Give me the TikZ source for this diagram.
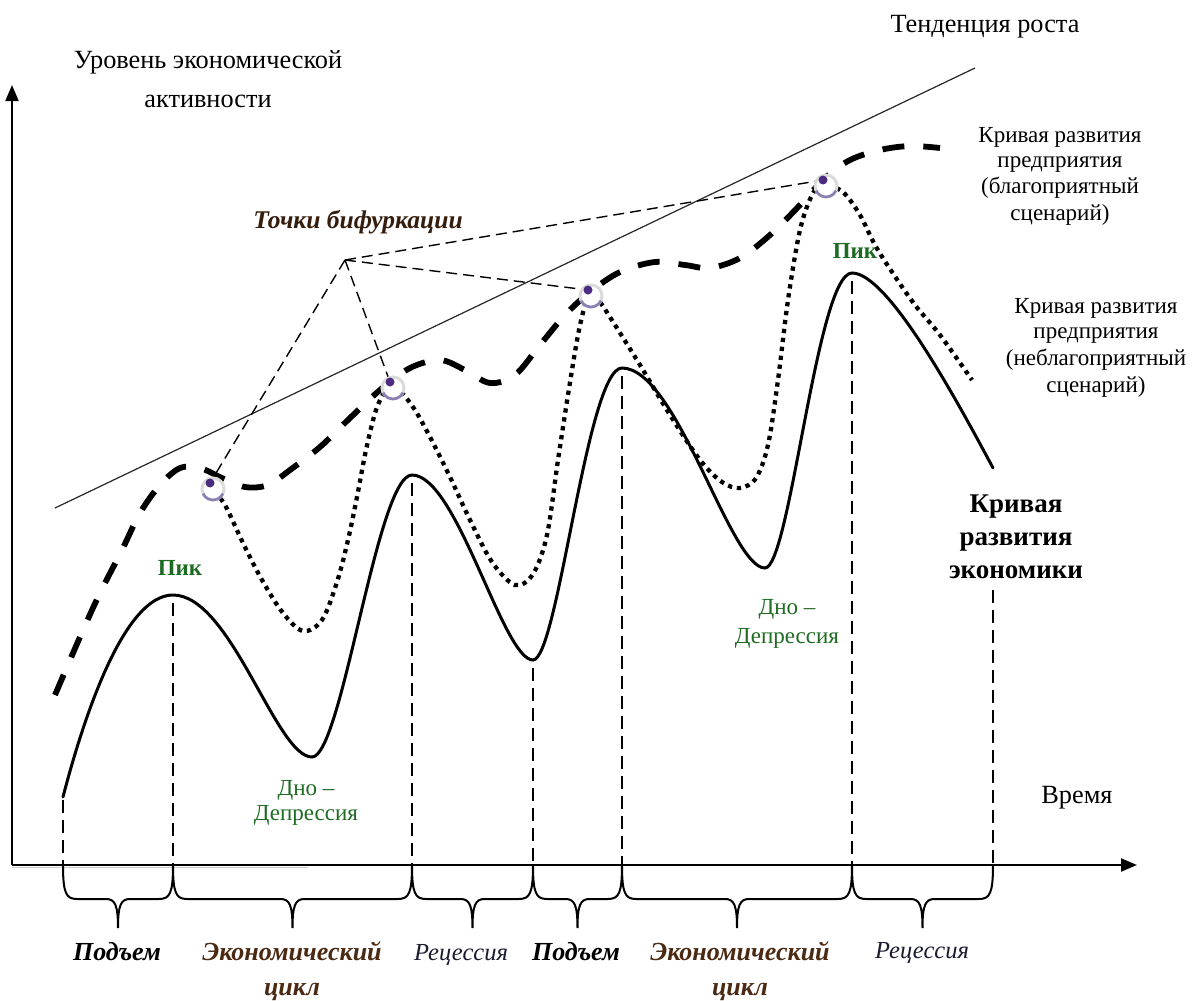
\documentclass[tikz,border=0pt]{standalone}
\usepackage{fontspec}
\setmainfont{Liberation Serif}
\usetikzlibrary{arrows.meta}
\definecolor{dgreen}{HTML}{1E6B22}
\definecolor{dbrown}{HTML}{4A2A12}
\definecolor{bifpurple}{HTML}{4B2C80}
\definecolor{ringlav}{HTML}{8C7FB5}
\definecolor{darkink}{HTML}{1A1A30}
\newcommand{\ecobrace}[2]{%
  \pgfmathsetmacro\bm{(#1+#2)/2}%
  \draw[bracestyle] (#1,865) .. controls (#1,893) and (#1+3,899) .. (#1+14,899)
    -- (\bm-12,899) .. controls (\bm-3,899) and (\bm,905) .. (\bm,928)
    .. controls (\bm,905) and (\bm+3,899) .. (\bm+12,899)
    -- (#2-14,899) .. controls (#2-3,899) and (#2,893) .. (#2,865);}
\newcommand{\bifmark}[1]{%
  \fill[white] ([shift={(3,6)}]#1) circle (12);
  \draw[black!14, line width=3pt] ([shift={(3,6)}]#1) circle (11);
  \draw[ringlav, line width=2.6pt] ([shift={(3,6)}]#1) ++(25:11) arc (25:155:11);
  \fill[bifpurple] (#1) circle (4.5);}
\begin{document}
\begin{tikzpicture}[x=1pt,y=-1pt,
  axis/.style={line width=2pt, -{Triangle[length=16pt,width=13pt]}},
  econ/.style={line width=3pt, line cap=round},
  favor/.style={line width=5.8pt, dash pattern=on 22pt off 19pt},
  unfavor/.style={line width=4.3pt, dash pattern=on 4.3pt off 4.7pt},
  trend/.style={line width=1.2pt, black!85},
  guide/.style={line width=1.5pt, dash pattern=on 13pt off 7pt, shorten <=8pt},
  pointer/.style={line width=1.4pt, dash pattern=on 11pt off 6pt},
  bracestyle/.style={line width=2pt},
  lbl/.style={inner sep=0pt, anchor=base},
  txt/.style={lbl, font=\fontsize{26.3}{31}\selectfont},
  side/.style={lbl, font=\fontsize{23}{27}\selectfont},
  econlbl/.style={lbl, font=\fontsize{27}{32}\selectfont\bfseries},
  greenlbl/.style={lbl, text=dgreen, font=\fontsize{23}{27}\selectfont},
  peaklbl/.style={lbl, text=dgreen, font=\fontsize{23}{27}\selectfont\bfseries},
  risephase/.style={lbl, font=\fontsize{26}{31}\selectfont\bfseries\itshape},
  cyclephase/.style={lbl, text=dbrown, font=\fontsize{26}{31}\selectfont\bfseries\itshape},
  recphase/.style={lbl, text=darkink, font=\fontsize{24.5}{30}\selectfont\itshape},
  bifurc/.style={lbl, text=dbrown!70!black, font=\fontsize{25.5}{30}\selectfont\bfseries\itshape}
]
\useasboundingbox (0,0) rectangle (1195,1001);
\fill[white] (0,0) rectangle (1195,1001);

% axes
\coordinate (O) at (12,865);
\coordinate (Xe) at (1137,865);
\coordinate (Ye) at (12,85);
\draw[gray!40, line width=1.4pt] (12,867.5) -- (308,867.5);
\draw[axis] (O) -- (Xe);
\draw[axis] (O) -- (Ye);

% economy curve extremes
\coordinate (e0) at (63,797);
\coordinate (e1) at (173,595);
\coordinate (e2) at (312,757);
\coordinate (e3) at (412,475);
\coordinate (e4) at (533,660);
\coordinate (e5) at (622,368);
\coordinate (e6) at (765,568);
\coordinate (e7) at (852,273);
\coordinate (e8) at (993,468);
\coordinate (g8) at (993,590);

% vertical guides
\foreach \p in {e1,e3,e4,e5,e7}
  \draw[guide] (\p) -- (\p |- O);
\draw[guide, shorten <=3pt] (e0) -- (e0 |- O);
\draw[guide, shorten <=0pt] (g8) -- (g8 |- O);

% trend line
\coordinate (t0) at (55,508);
\coordinate (t1) at (975,68);
\draw[trend] (t0) -- (t1);

% economy curve
\draw[econ] (e0) .. controls +(22,-85) and +(-48,0) .. (e1)
  .. controls +(58,0) and +(-36,0) .. (e2)
  .. controls +(30,0) and +(-35,0) .. (e3)
  .. controls +(45,0) and +(-30,0) .. (e4)
  .. controls +(25,0) and +(-35,0) .. (e5)
  .. controls +(55,0) and +(-35,0) .. (e6)
  .. controls +(25,0) and +(-35,0) .. (e7)
  .. controls +(35,0) and +(-40,-75) .. (e8);

% favourable scenario (thick dashed)
\draw[favor] plot[smooth, tension=0.55] coordinates {
 (55,695) (80,637) (100,593) (122,550) (140,513) (160,485) (180,468) (200,468)
 (222,478) (245,487) (268,485) (290,470) (320,447) (350,418) (380,390) (410,368)
 (440,360) (465,370) (490,383) (515,375) (540,345) (565,315) (590,292) (620,272)
 (655,262) (685,265) (710,268) (740,258) (770,235) (800,205) (825,178) (850,160)
 (880,150) (910,146) (940,148)};

% unfavourable scenario (dotted)
\draw[unfavor] plot[smooth, tension=0.55] coordinates {
 (214,492) (225,505) (243,543) (262,580) (283,613) (303,631) (322,620) (337,582)
 (348,540) (357,497) (366,450) (376,410) (386,390) (394,385) (403,394) (415,410)
 (430,437) (450,477) (470,520) (492,562) (515,585) (533,574) (547,535) (558,460)
 (568,395) (578,335) (586,302) (592,294) (600,302) (615,325) (640,365) (670,415)
 (700,460) (722,482) (740,488) (756,478) (768,445) (778,380) (788,300) (800,230)
 (812,195) (822,185) (832,186) (845,194) (860,215) (875,245) (892,272) (915,305)
 (940,335) (972,380)};

% bifurcation points
\coordinate (apex) at (345,260);
\coordinate (b1) at (210,483);
\coordinate (b2) at (390,382);
\coordinate (b3) at (588,290);
\coordinate (b4) at (823,180);
\foreach \b in {b1,b2,b3,b4}
  \draw[pointer] (apex) -- (\b);
\bifmark{b1}
\bifmark{b2}
\bifmark{b3}
\bifmark{b4}

% braces
\ecobrace{63}{173}
\ecobrace{173}{412}
\ecobrace{412}{533}
\ecobrace{533}{622}
\ecobrace{622}{852}
\ecobrace{852}{993}

% texts
\node[txt] (ylab1) at (208,68) {Уровень экономической};
\node[txt] (ylab2) at (208,107) {активности};
\node[txt] (trendlab) at (985,32) {Тенденция роста};
\node[bifurc] (biflab) at (358,228) {Точки бифуркации};
\node[txt] (timelab) at (1077,803) {Время};

\node[side] (fav1) at (1060,142) {Кривая развития};
\node[side] (fav2) at (1060,167) {предприятия};
\node[side] (fav3) at (1060,193) {(благоприятный};
\node[side] (fav4) at (1060,220) {сценарий)};

\node[side] (unf1) at (1096,313) {Кривая развития};
\node[side] (unf2) at (1096,338) {предприятия};
\node[side] (unf3) at (1096,365) {(неблагоприятный};
\node[side] (unf4) at (1096,392) {сценарий)};

\node[econlbl] (eco1) at (1016,512) {Кривая};
\node[econlbl] (eco2) at (1016,545) {развития};
\node[econlbl] (eco3) at (1016,578) {экономики};

\node[peaklbl] (pk1) at (180,575) {Пик};
\node[peaklbl] (pk2) at (855,258) {Пик};
\node[greenlbl] (dn1a) at (306,795) {Дно –};
\node[greenlbl] (dn1b) at (306,820) {Депрессия};
\node[greenlbl] (dn2a) at (787,614) {Дно –};
\node[greenlbl] (dn2b) at (787,643) {Депрессия};

\node[risephase] (ph1) at (117,960) {Подъем};
\node[cyclephase] (ph2a) at (292,960) {Экономический};
\node[cyclephase] (ph2b) at (292,995) {цикл};
\node[recphase] (ph3) at (461,960) {Рецессия};
\node[risephase] (ph4) at (576,960) {Подъем};
\node[cyclephase] (ph5a) at (740,960) {Экономический};
\node[cyclephase] (ph5b) at (740,995) {цикл};
\node[recphase] (ph6) at (922,958) {Рецессия};
\end{tikzpicture}
\end{document}
